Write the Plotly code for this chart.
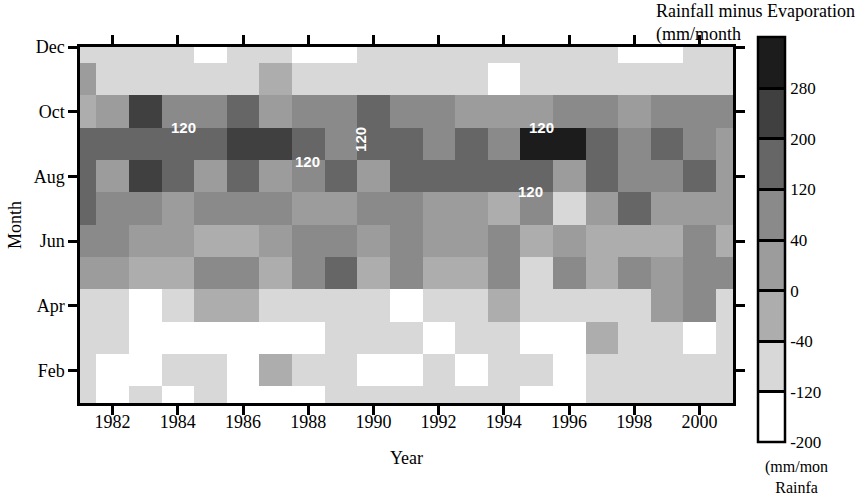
import numpy as np
import plotly.graph_objects as go

# ---------------- data (mm/month, rainfall minus evaporation) ----------------
years = list(range(1981, 2002))
months = list(range(1, 13))
month_tickvals = [2, 4, 6, 8, 10, 12]
month_ticktext = ["Feb", "Apr", "Jun", "Aug", "Oct", "Dec"]
year_tickvals = list(range(1982, 2001, 2))

#            1981  1982  1983  1984  1985  1986  1987  1988  1989  1990  1991  1992  1993  1994  1995  1996  1997  1998  1999  2000  2001
jan_vals = [ -80, -150,  -85, -155,  -90, -160, -150, -145,  -80,  -75,  -85,  -80,  -90,  -80, -150, -160,  -85,  -80,  -75,  -80,  -85]
feb_vals = [ -85, -160, -150,  -80,  -90, -150,  -20,  -85,  -80, -155, -150,  -80, -140,  -85,  -90, -150,  -80,  -75,  -85,  -80,  -80]
mar_vals = [ -80,  -90, -150, -155, -160, -150, -145, -150,  -85,  -80,  -90, -140,  -80,  -85, -150, -155,  -20,  -80,  -85, -150,  -80]
apr_vals = [ -75,  -80, -140,  -70,  -20,  -25,  -80,  -75,  -85,  -80, -140,  -80,  -70,  -20,  -90,  -80,  -75,  -80,   20,   70,  -80]
may_vals = [  20,   25,  -20,  -15,   80,   75,  -20,   70,  150,  -25,   80,  -20,  -15,   75,  -80,   70,  -20,   80,   25,   75,   70]
jun_vals = [  70,   80,   20,   25,  -20,  -25,   20,   80,   70,   25,   70,   20,   15,   75,  -20,   25,  -20,  -25,  -15,   80,  -20]
jul_vals = [ 150,   80,   75,   25,   70,   80,   75,   25,   30,   70,   80,   25,   20,  -20,   75,  -80,   25,  150,   20,   30,   25]
aug_vals = [ 160,   25,  230,  150,   20,  160,   25,   80,  150,   20,  140,  150,  160,  150,  145,   25,  150,   80,   75,  150,   25]
sep_vals = [ 150,  160,  150,  155,  160,  240,  230,  150,   80,  160,  150,   80,  150,   75,  320,  310,  150,   80,  160,   75,   25]
oct_vals = [ -20,   25,  240,   80,   75,  160,   20,   80,   75,  150,   80,   75,   25,   20,   30,   80,   75,   25,   80,   75,   70]
nov_vals = [  20,  -80,  -85,  -90,  -80,  -75,  -20,  -80,  -85,  -90,  -80,  -75,  -80, -150,  -85,  -80,  -90,  -80,  -85,  -80,  -75]
dec_vals = [ -80,  -85,  -90,  -80, -150,  -85,  -80, -150, -155,  -85,  -80,  -90,  -80,  -85,  -80,  -75,  -80, -150, -160,  -80,  -85]

level_bounds = [-200, -120, -40, 0, 40, 120, 200, 280]
level_labels = ["-200", "-120", "-40", "0", "40", "120", "200", "280"]
level_colors = ["#FFFFFF", "#D8D8D8", "#ADADAD", "#9C9C9C", "#8A8A8A", "#666666", "#404040", "#1C1C1C"]

# contour labels ("120") as they appear on the chart: (year, month, angle)
contour_label_year = [1984.18, 1987.99, 1989.62, 1995.15, 1994.81]
contour_label_month = [9.50, 8.45, 9.13, 9.50, 7.52]
contour_label_angle = [0, 0, -90, 0, 0]

# ---------------- build figure ----------------
z_raw = np.array([jan_vals, feb_vals, mar_vals, apr_vals, may_vals, jun_vals,
                  jul_vals, aug_vals, sep_vals, oct_vals, nov_vals, dec_vals], dtype=float)
z_level = np.digitize(z_raw, level_bounds[1:]) + 0.5  # band index centre

n = len(level_colors)
colorscale = []
for i, c in enumerate(level_colors):
    colorscale.append([i / n, c])
    colorscale.append([(i + 1) / n, c])

FONT = "Liberation Serif"

fig = go.Figure()
fig.add_trace(go.Heatmap(
    x=years, y=months, z=z_level, customdata=z_raw,
    zmin=0, zmax=n, colorscale=colorscale, zsmooth=False,
    hovertemplate="Year %{x}<br>Month %{y}<br>%{customdata} mm/month<extra></extra>",
    colorbar=dict(
        x=(758 - 80.5) / 652.5, xanchor="left", xpad=0,
        y=(403 - 240) / 356, yanchor="middle", ypad=0,
        len=405, lenmode="pixels", thickness=27,
        outlinewidth=2.5, outlinecolor="black",
        tickmode="array", tickvals=list(range(n)), ticktext=level_labels,
        ticks="inside", ticklen=27, tickwidth=2.5, tickcolor="black",
        tickfont=dict(family=FONT, size=17, color="black"),
    ),
))

for yr, mo, ang in zip(contour_label_year, contour_label_month, contour_label_angle):
    fig.add_annotation(x=yr, y=mo, xref="x", yref="y", text="<b>120</b>",
                       showarrow=False, textangle=ang,
                       font=dict(family="Liberation Sans", size=15, color="white"))

fig.add_annotation(x=(654 - 80.5) / 652.5, y=(403 - 23) / 356, xref="paper", yref="paper",
                   text="Rainfall minus Evaporation<br>(mm/month", showarrow=False,
                   xanchor="left", yanchor="middle", align="left",
                   font=dict(family=FONT, size=18, color="black"))
fig.add_annotation(x=(796 - 80.5) / 652.5, y=(403 - 477) / 356, xref="paper", yref="paper",
                   text="(mm/mon<br>Rainfa", showarrow=False,
                   xanchor="center", yanchor="middle", align="center",
                   font=dict(family=FONT, size=16, color="black"))

axis_common = dict(showline=True, linecolor="black", linewidth=2.5, mirror="ticks",
                   ticks="outside", ticklen=9, tickwidth=2.5, tickcolor="black",
                   showgrid=False, zeroline=False,
                   tickfont=dict(family=FONT, size=18, color="black"))

fig.update_xaxes(range=[1981, 2001.03], tickmode="array", tickvals=year_tickvals,
                 ticklabelstandoff=-8,
                 title=dict(text="Year", font=dict(family=FONT, size=18, color="black"), standoff=21),
                 **axis_common)
fig.update_yaxes(range=[1, 12], tickmode="array", tickvals=month_tickvals, ticktext=month_ticktext,
                 title=dict(text="Month", font=dict(family=FONT, size=18, color="black"), standoff=8),
                 **axis_common)

fig.update_layout(
    width=864, height=504,
    margin=dict(l=80, r=131, t=47, b=101, pad=0),
    paper_bgcolor="white", plot_bgcolor="white",
    showlegend=False,
)

fig.write_html("out.html", config={"displayModeBar": False},
               post_script="document.body.style.margin='0px';")
